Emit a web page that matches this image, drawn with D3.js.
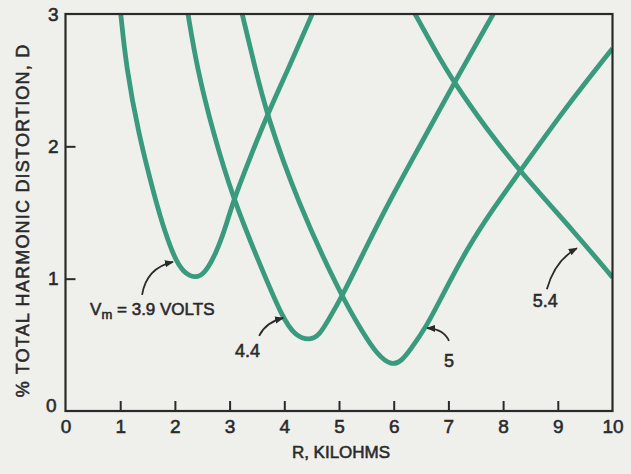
<!DOCTYPE html>
<html><head><meta charset="utf-8">
<script src="https://cdn.jsdelivr.net/npm/d3@7"></script>
<style>
html,body{margin:0;padding:0;background:#efefeb;}
svg{display:block;}
text{font-family:"Liberation Sans",Arial,sans-serif;fill:#2a2a2a;stroke:#2a2a2a;stroke-width:0.55px;}
</style></head>
<body><svg id="c" width="631" height="474"></svg>
<script>
// ---- data (R in kilohms, D in % total harmonic distortion) ----
const xTicks = [0,1,2,3,4,5,6,7,8,9,10];
const yTicks = [0,1,2,3];
const seriesNames = ["3.9","4.4","5","5.4"];
const r39 = [1.01,1.11,1.33,1.64,1.82,2.00,2.15,2.37,2.55,2.75,2.92,3.07,3.35,3.68,4.10,4.51];
const d39 = [3.00,2.60,2.10,1.60,1.35,1.15,1.05,1.00,1.04,1.19,1.38,1.59,1.89,2.23,2.61,3.00];
const r44 = [2.24,2.40,2.70,3.07,3.52,3.98,4.20,4.47,4.65,4.78,5.05,5.50,5.90,6.50,7.12,7.82];
const d44 = [3.00,2.60,2.10,1.60,1.14,0.69,0.57,0.53,0.58,0.67,0.86,1.24,1.57,2.02,2.49,3.00];
const r50 = [3.23,3.45,3.68,4.23,5.05,5.44,5.69,5.96,6.15,6.30,6.60,6.85,7.33,7.80,8.31,9.10,10.0];
const d50 = [3.00,2.62,2.24,1.59,0.86,0.59,0.43,0.34,0.38,0.46,0.64,0.84,1.22,1.52,1.81,2.27,2.74];
const r54 = [6.39,6.75,7.09,7.70,8.31,9.35,10.0];
const d54 = [3.00,2.73,2.49,2.13,1.81,1.33,1.01];
// annotation anchors (data units): text position, arrow start, control, tip
const labelText = ["= 3.9 VOLTS","4.4","5","5.4"];
const labelR = [0.45,3.10,7.01,8.77];
const labelD = [0.726,0.41,0.333,0.786];
const arrowStart = [[1.40,0.877],[3.54,0.567],[7.01,0.53],[8.80,0.92]];
const arrowCtrl  = [[1.48,1.08],[3.66,0.67],[6.92,0.62],[8.95,1.14]];
const arrowTip   = [[1.965,1.126],[3.98,0.703],[6.61,0.627],[9.35,1.23]];

const series = [[r39,d39],[r44,d44],[r50,d50],[r54,d54]];

const svg = d3.select("#c");
const W=631,H=474;
const m = {l:65.5, r:18.5, t:14, b:63};
const x = d3.scaleLinear().domain([0,10]).range([m.l, W-m.r]);
const y = d3.scaleLinear().domain([0,3]).range([H-m.b, m.t]);

svg.append("rect").attr("width",W).attr("height",H).attr("fill","#efefeb");

svg.append("clipPath").attr("id","clip").append("rect")
  .attr("x",x(0)).attr("y",y(3)).attr("width",x(10)-x(0)).attr("height",y(0)-y(3));

// curves
const line = d3.line().x(d=>x(d[0])).y(d=>y(d[1])).curve(d3.curveBasis);
const g = svg.append("g").attr("clip-path","url(#clip)");
series.forEach(([rs,ds])=>{
  g.append("path").datum(rs.map((r,i)=>[r,ds[i]]))
   .attr("d",line).attr("fill","none").attr("stroke","#3a9a7d")
   .attr("stroke-width",4.8).attr("stroke-linejoin","round").attr("stroke-linecap","butt");
});

// axes
const xa = svg.append("g").attr("transform",`translate(0,${y(0)})`)
  .call(d3.axisBottom(x).tickValues(xTicks).tickFormat(d3.format("d")).tickSize(-10).tickPadding(9));
const ya = svg.append("g").attr("transform",`translate(${x(0)},0)`)
  .call(d3.axisLeft(y).tickValues(yTicks).tickFormat(d3.format("d")).tickSize(-10).tickPadding(7));
[xa,ya].forEach(a=>{
  a.select(".domain").remove();
  a.selectAll(".tick line").attr("stroke","#2a2a2a").attr("stroke-width",2);
  a.selectAll(".tick text").attr("font-size",19).attr("fill","#2a2a2a")
   .style("font-family","'Liberation Sans',Arial,sans-serif");
});
xa.selectAll(".tick").filter(d=>d===0||d===10).select("line").remove();
ya.selectAll(".tick").filter(d=>d===0||d===3).select("line").remove();
ya.selectAll(".tick").filter(d=>d===0).select("text").attr("dy","0.05em").attr("x",-9);

// frame
svg.append("rect").attr("x",x(0)).attr("y",y(3)).attr("width",x(10)-x(0)).attr("height",y(0)-y(3))
  .attr("fill","none").attr("stroke","#2a2a2a").attr("stroke-width",2.2);

// axis titles
svg.append("text").attr("x",(x(0)+x(10))/2+2).attr("y",458).attr("text-anchor","middle")
  .attr("font-size",17).text("R, KILOHMS");
svg.append("text").attr("transform",`translate(29,${(y(0)+y(3))/2+8}) rotate(-90)`)
  .attr("text-anchor","middle").attr("font-size",18).attr("letter-spacing",1.2)
  .text("% TOTAL HARMONIC DISTORTION, D");

// arrowhead marker
svg.append("defs").append("marker").attr("id","ah").attr("viewBox","0 0 10 10")
  .attr("refX",9).attr("refY",5).attr("markerWidth",5).attr("markerHeight",5)
  .attr("orient","auto").attr("markerUnits","strokeWidth")
  .append("path").attr("d","M0,1 L10,5 L0,9 Z").attr("fill","#2a2a2a");

arrowStart.forEach((s,i)=>{
  const c=arrowCtrl[i], t=arrowTip[i];
  svg.append("path")
    .attr("d",`M${x(s[0])},${y(s[1])} Q${x(c[0])},${y(c[1])} ${x(t[0])},${y(t[1])}`)
    .attr("fill","none").attr("stroke","#2a2a2a").attr("stroke-width",1.8)
    .attr("marker-end","url(#ah)");
});

// labels
labelText.forEach((txt,i)=>{
  const t = svg.append("text").attr("x",x(labelR[i])).attr("y",y(labelD[i])).attr("font-size",18);
  if(i===0){
    t.attr("font-size",17);
    t.append("tspan").text("V");
    t.append("tspan").attr("font-size",13).attr("dy",4).text("m");
    t.append("tspan").attr("dy",-4).text(" " + txt);
  } else {
    t.attr("text-anchor", i===1 ? "start" : "middle").text(txt);
  }
});
</script></body></html>
